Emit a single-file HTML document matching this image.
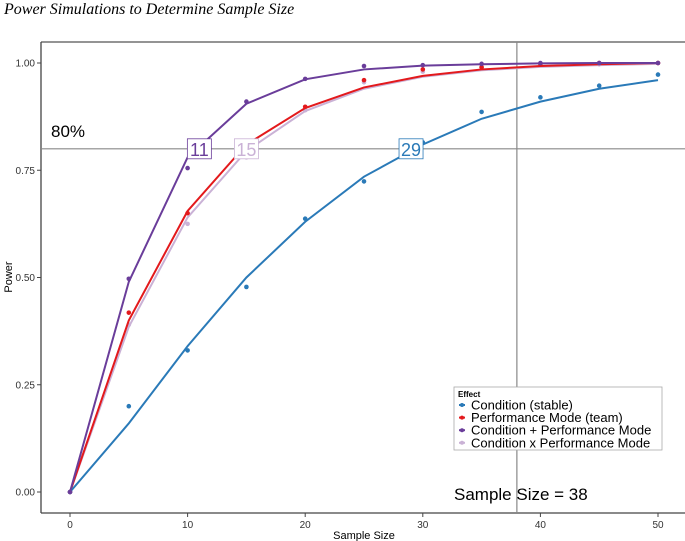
<!DOCTYPE html>
<html><head><meta charset="utf-8"><style>
body{margin:0;background:#fff;}
svg{display:block;font-family:"Liberation Sans",sans-serif;}
</style></head><body>
<svg id="chart" width="685" height="541" viewBox="0 0 685 541">
<text x="4" y="14" font-family="Liberation Serif" font-style="italic" font-size="16" fill="#000">Power Simulations to Determine Sample Size</text>
<g id="plot"></g>
</svg>
<script>
const sampleSizes=[0,5,10,15,20,25,30,35,40,45,50];
const seriesNames=["Condition (stable)","Performance Mode (team)","Condition + Performance Mode","Condition x Performance Mode"];
const seriesColors=["#2a7ab8","#e3191c","#6a3d9a","#cab2d6"];
const dotsStable=[0,0.20,0.33,0.478,0.637,0.724,0.815,0.886,0.92,0.947,0.973];
const lineStable=[0,0.16,0.34,0.50,0.63,0.735,0.81,0.87,0.91,0.94,0.96];
const dotsTeam=[0,0.418,0.65,0.80,0.898,0.96,0.985,0.99,0.998,1,1];
const lineTeam=[0,0.40,0.655,0.81,0.895,0.943,0.97,0.985,0.993,0.997,1];
const dotsPlus=[0,0.497,0.755,0.91,0.963,0.993,0.995,0.998,1,1,1];
const linePlus=[0,0.49,0.78,0.905,0.962,0.985,0.994,0.997,0.999,1,1];
const dotsTimes=[0,0.39,0.625,0.78,0.89,0.955,0.98,0.99,0.995,0.997,1];
const lineTimes=[0,0.385,0.64,0.795,0.888,0.94,0.968,0.983,0.991,0.995,0.998];
const crossLabels=[29,15,11,15];
const xTicks=[0,10,20,30,40,50];
const yTicks=[0,0.25,0.5,0.75,1];
const threshold=0.8, chosenN=38;

const NS="http://www.w3.org/2000/svg";
const g=document.getElementById('plot');
const X=v=>70+v*11.76, Y=v=>492-v*429;
function el(t,a,p){const e=document.createElementNS(NS,t);for(const k in a)e.setAttribute(k,a[k]);(p||g).appendChild(e);return e;}

let e;
e=el('line',{x1:41,y1:42,x2:685,y2:42,stroke:'#555','stroke-width':1.3});

e=el('line',{x1:41,y1:42,x2:41,y2:513,stroke:'#444','stroke-width':1.3});

e=el('line',{x1:41,y1:513,x2:685,y2:513,stroke:'#444','stroke-width':1.3});

xTicks.forEach(t=>{
 e=el('line',{x1:X(t),y1:513,x2:X(t),y2:517,stroke:'#444'});
 
 e=el('text',{x:X(t),y:528,'text-anchor':'middle','font-size':10,fill:'#333'});e.textContent=t;
 
});
yTicks.forEach(t=>{
 e=el('line',{x1:37,y1:Y(t),x2:41,y2:Y(t),stroke:'#444'});
 
 e=el('text',{x:35,y:Y(t)+3.5,'text-anchor':'end','font-size':10,fill:'#333'});e.textContent=t.toFixed(2);
 
});
e=el('text',{x:364,y:539,'text-anchor':'middle','font-size':11});e.textContent='Sample Size';

e=el('text',{x:12,y:277,'text-anchor':'middle','font-size':11,transform:'rotate(-90 12 277)'});e.textContent='Power';


e=el('line',{x1:41,y1:Y(threshold),x2:685,y2:Y(threshold),stroke:'#888','stroke-width':1.2});

e=el('line',{x1:X(chosenN),y1:42,x2:X(chosenN),y2:513,stroke:'#888','stroke-width':1.2});

e=el('text',{x:51,y:137,'font-size':17});e.textContent='80%';

e=el('text',{x:454,y:500,'font-size':17});e.textContent='Sample Size = '+chosenN;


const lines=[lineStable,lineTeam,linePlus,lineTimes], dots=[dotsStable,dotsTeam,dotsPlus,dotsTimes];
[3,1,0,2].forEach(i=>{
 e=el('polyline',{points:sampleSizes.map((s,j)=>X(s)+','+Y(lines[i][j])).join(' '),fill:'none',stroke:seriesColors[i],'stroke-width':2});
 
 sampleSizes.forEach((s,j)=>{
  e=el('circle',{cx:X(s),cy:Y(dots[i][j]),r:2.3,fill:seriesColors[i]});
  
 });
});
// crossing labels
[0,3,2].forEach(i=>{
 const n=crossLabels[i], cx=X(n), cy=Y(threshold);
 e=el('rect',{x:cx-12,y:cy-10,width:24,height:20,fill:'#fff',stroke:seriesColors[i],'stroke-width':0.8});
 
 e=el('text',{x:cx,y:cy+7,'text-anchor':'middle','font-size':18,fill:seriesColors[i]});e.textContent=n;
 
});
// legend
const lg=el('g',{});

el('rect',{x:454,y:387,width:208,height:63,fill:'#fff',stroke:'#aaa','stroke-width':0.8},lg);
e=el('text',{x:458,y:397,'font-size':8,'font-weight':'bold'},lg);e.textContent='Effect';
seriesNames.forEach((nm,i)=>{
 const y=405+i*12.6;
 e=el('line',{x1:459,y1:y,x2:465,y2:y,stroke:seriesColors[i],'stroke-width':2},lg);
 el('circle',{cx:462,cy:y,r:2,fill:seriesColors[i]},lg);
 e=el('text',{x:471,y:y+4.5,'font-size':13},lg);e.textContent=nm;
 
});
</script>
</body></html>
